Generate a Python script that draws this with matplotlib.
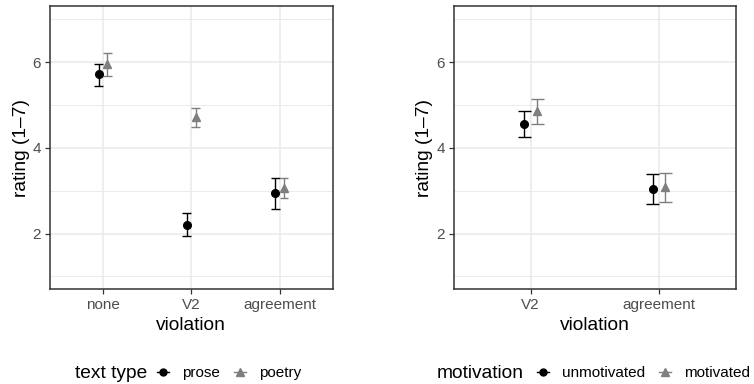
import matplotlib
matplotlib.use("Agg")
import matplotlib.pyplot as plt
from matplotlib.lines import Line2D
import numpy as np

plt.rcParams["font.family"] = ["Liberation Sans", "DejaVu Sans"]

# ---------------------------------------------------------------------------
# Data
# ---------------------------------------------------------------------------

left_levels = ["none", "V2", "agreement"]
prose_mean = [5.71, 2.21, 2.94]
prose_lo = [5.45, 1.95, 2.58]
prose_hi = [5.95, 2.47, 3.29]
poetry_mean = [5.96, 4.72, 3.06]
poetry_lo = [5.68, 4.49, 2.82]
poetry_hi = [6.21, 4.92, 3.29]

right_levels = ["V2", "agreement"]
unmot_mean = [4.55, 3.03]
unmot_lo = [4.25, 2.68]
unmot_hi = [4.86, 3.39]
mot_mean = [4.86, 3.08]
mot_lo = [4.55, 2.74]
mot_hi = [5.14, 3.41]

BLACK = "black"
GREY = "#7F7F7F"
TITLE_FS = 13.8
TEXT_FS = 11.0

W, H = 754, 384
fig = plt.figure(figsize=(W / 100, H / 100), dpi=100)


def px_axes(x0, x1, y0, y1):
    return fig.add_axes([x0 / W, 1 - y1 / H, (x1 - x0) / W, (y1 - y0) / H])


def draw_series(ax, means, lo, hi, offset, color, marker, ms):
    x = np.arange(1, len(means) + 1) + offset
    ax.vlines(x, lo, hi, color=color, lw=1.0, zorder=3)
    ax.hlines(lo, x - 0.05, x + 0.05, color=color, lw=1.0, zorder=3)
    ax.hlines(hi, x - 0.05, x + 0.05, color=color, lw=1.0, zorder=3)
    ax.plot(x, means, ls="none", marker=marker, color=color, ms=ms, zorder=4)


def style_panel(ax, levels):
    n = len(levels)
    ax.set_xlim(0.4, n + 0.6)
    ax.set_ylim(0.7, 7.3)
    ax.set_xticks(np.arange(1, n + 1))
    ax.set_xticklabels(levels)
    ax.set_yticks([2, 4, 6])
    ax.set_yticks([1, 3, 5, 7], minor=True)
    ax.grid(True, which="major", color="#EBEBEB", lw=1.2)
    ax.grid(True, which="minor", axis="y", color="#EBEBEB", lw=0.7)
    ax.set_axisbelow(True)
    ax.tick_params(which="major", length=3.5, width=0.9, color="#333333",
                   labelcolor="#4D4D4D", labelsize=TEXT_FS, pad=3)
    ax.tick_params(which="minor", length=0)
    for s in ax.spines.values():
        s.set_color("#333333")
        s.set_linewidth(1.1)
    ax.set_xlabel("violation", fontsize=TITLE_FS, labelpad=3.5)
    ax.set_ylabel("rating (1\u20137)", fontsize=TITLE_FS, labelpad=2)


ax1 = px_axes(50, 332.5, 6.3, 289.3)
draw_series(ax1, prose_mean, prose_lo, prose_hi, -0.05, BLACK, "o", 5.5)
draw_series(ax1, poetry_mean, poetry_lo, poetry_hi, 0.05, GREY, "^", 6)
style_panel(ax1, left_levels)

ax2 = px_axes(453.7, 736, 6.3, 289.3)
draw_series(ax2, unmot_mean, unmot_lo, unmot_hi, -0.05, BLACK, "o", 5.5)
draw_series(ax2, mot_mean, mot_lo, mot_hi, 0.05, GREY, "^", 6)
style_panel(ax2, right_levels)


def add_legend(title, labels, title_x, keys_x):
    y = 1 - 373 / H
    fig.text(title_x / W, y, title, fontsize=TITLE_FS, ha="left", va="center")
    handles = [
        Line2D([], [], color=BLACK, marker="o", ms=5, lw=1),
        Line2D([], [], color=GREY, marker="^", ms=5.5, lw=1),
    ]
    fig.legend(handles, labels, loc="center left", bbox_to_anchor=(keys_x / W, y),
               ncol=2, frameon=False, fontsize=TEXT_FS, handlelength=0.8,
               handletextpad=0.85, columnspacing=0.9, borderpad=0, borderaxespad=0)


add_legend("text type", ["prose", "poetry"], 75, 157)
add_legend("motivation", ["unmotivated", "motivated"], 437, 537)

fig.savefig("out.png", dpi=100)
